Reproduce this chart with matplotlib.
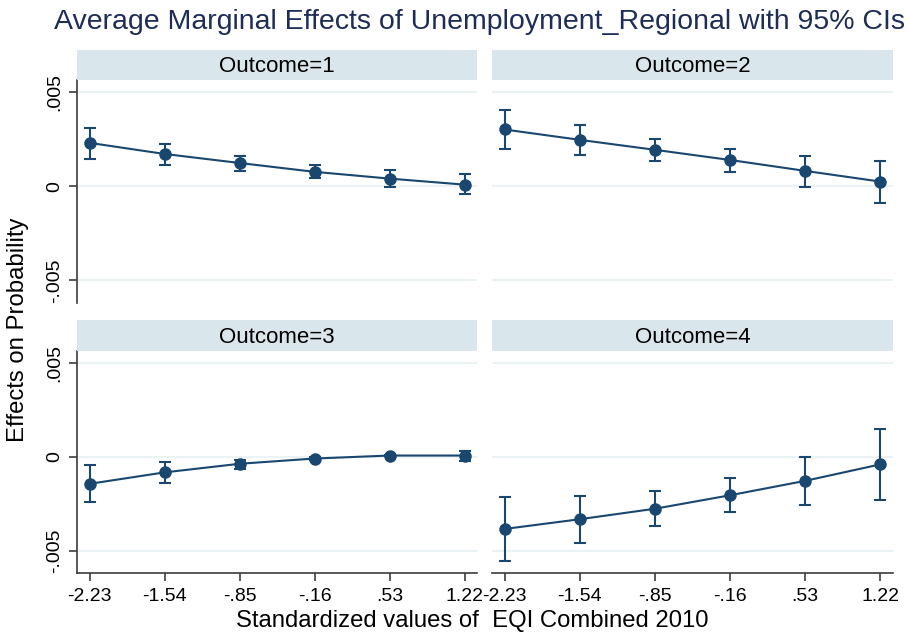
import numpy as np
import matplotlib
matplotlib.use("Agg")
import matplotlib.pyplot as plt

plt.rcParams['font.family'] = ['Liberation Sans', 'DejaVu Sans']

# at() values of the standardized EQI
x_vals = [-2.23, -1.54, -0.85, -0.16, 0.53, 1.22]
x_labels = ['-2.23', '-1.54', '-.85', '-.16', '.53', '1.22']

outcomes = ['Outcome=1', 'Outcome=2', 'Outcome=3', 'Outcome=4']
ame = [
    [0.00231, 0.00172, 0.00124, 0.00077, 0.00041, 0.00009],
    [0.00302, 0.00247, 0.00194, 0.00140, 0.00082, 0.00025],
    [-0.00144, -0.00083, -0.00037, -0.00009, 0.00007, 0.00007],
    [-0.00385, -0.00333, -0.00277, -0.00205, -0.00128, -0.00040],
]
ci_low = [
    [0.00146, 0.00115, 0.00084, 0.00043, -0.00002, -0.00040],
    [0.00197, 0.00169, 0.00135, 0.00077, -0.00002, -0.00087],
    [-0.00243, -0.00138, -0.00064, -0.00015, 0.00002, -0.00021],
    [-0.00555, -0.00461, -0.00367, -0.00296, -0.00257, -0.00230],
]
ci_high = [
    [0.00310, 0.00226, 0.00160, 0.00114, 0.00085, 0.00064],
    [0.00408, 0.00327, 0.00254, 0.00197, 0.00160, 0.00135],
    [-0.00044, -0.00030, -0.00016, -0.00003, 0.00012, 0.00032],
    [-0.00214, -0.00207, -0.00182, -0.00115, 0.00000, 0.00147],
]

W, H = 908, 634
fig = plt.figure(figsize=(W / 100, H / 100), dpi=100)

navy = '#1a476f'
strip_col = '#d9e6eb'
grid_col = '#eaf2f3'
spine_col = '#3c3c3c'

# pixel boxes: (left, right, strip_top, axes_top, axes_bottom)
boxes = [
    (77, 477, 50, 80, 303),
    (492, 893, 50, 80, 303),
    (77, 477, 320, 351, 573),
    (492, 893, 320, 351, 573),
]

for i, (l, r, st, at, ab) in enumerate(boxes):
    ax = fig.add_axes([l / W, 1 - ab / H, (r - l) / W, (ab - at) / H])
    sax = fig.add_axes([l / W, 1 - at / H, (r - l) / W, (at - st) / H])
    sax.set_facecolor(strip_col)
    sax.set_xticks([])
    sax.set_yticks([])
    for s in sax.spines.values():
        s.set_visible(False)
    sax.text(0.5, 0.45, outcomes[i], ha='center', va='center', fontsize=16,
             transform=sax.transAxes)

    y = np.array(ame[i])
    lo = np.array(ci_low[i])
    hi = np.array(ci_high[i])
    ax.errorbar(x_vals, y, yerr=[y - lo, hi - y], color=navy, lw=1.5,
                marker='o', ms=8, capsize=4, capthick=1.5, elinewidth=1.5, zorder=3)

    ax.set_xlim(-2.345, 1.335)
    ax.set_ylim(-0.0062, 0.00565)
    yt = [-0.005, 0, 0.005]
    for v in yt:
        ax.axhline(v, color=grid_col, lw=1.5, zorder=0)

    for s in ax.spines.values():
        s.set_visible(False)
    left = i % 2 == 0
    bottom = i >= 2
    ax.spines['left'].set_visible(left)
    ax.spines['bottom'].set_visible(bottom)
    ax.spines['left'].set_color(spine_col)
    ax.spines['bottom'].set_color(spine_col)
    ax.spines['left'].set_linewidth(1.2)
    ax.spines['bottom'].set_linewidth(1.2)

    if left:
        ax.set_yticks(yt)
        ax.set_yticklabels(['-.005', '0', '.005'], rotation=90, va='center', fontsize=14)
        ax.tick_params(axis='y', length=6, width=1.2, color=spine_col, pad=4)
    else:
        ax.set_yticks([])
    if bottom:
        ax.set_xticks(x_vals)
        ax.set_xticklabels(x_labels, fontsize=14)
        ax.tick_params(axis='x', length=6, width=1.2, color=spine_col, pad=5)
    else:
        ax.set_xticks([])

fig.text(479 / W, 1 - 22 / H, 'Average Marginal Effects of Unemployment_Regional with 95% CIs',
         ha='center', va='center', fontsize=20.5, color='#1e2d58')
fig.text(18 / W, 1 - 330 / H, 'Effects on Probability', rotation=90,
         ha='center', va='center', fontsize=17.2)
fig.text(472 / W, 1 - 621 / H, 'Standardized values of  EQI Combined 2010',
         ha='center', va='center', fontsize=17.2)

fig.savefig('out.png', dpi=100)
